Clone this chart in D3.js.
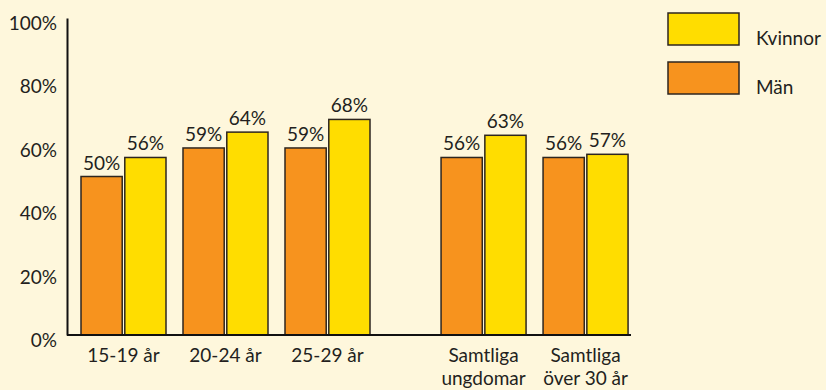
<!DOCTYPE html>
<html>
<head>
<meta charset="utf-8">
<script src="https://cdn.jsdelivr.net/npm/d3@7"></script>
<style>
  html, body { margin: 0; padding: 0; background: #fef7dc; }
  svg { display: block; font-family: Lato, "Open Sans", sans-serif; }
</style>
</head>
<body>
<svg id="chart" width="826" height="390"></svg>
<script>
// data
const categories = [["15-19 år"], ["20-24 år"], ["25-29 år"], ["Samtliga", "ungdomar"], ["Samtliga", "över 30 år"]];
const man = [50, 59, 59, 56, 56];
const kvinnor = [56, 64, 68, 63, 57];
const series = ["Män", "Kvinnor"];
const yTicks = [0, 20, 40, 60, 80, 100];

const colors = { "Män": "#f7931e", "Kvinnor": "#ffdd00" };
const fontSize = 19;

const svg = d3.select("#chart");

// layout: groups are laid out in slots, with an extra gap before the summary groups
const slots = categories.map((c, i) => i + (i >= 3 ? 0.53 : 0));
const slotX = d3.scaleLinear().domain([0, 1]).range([81, 183]);
const inner = d3.scaleBand().domain(series).range([0, 85]).paddingInner(5 / 85);
const y = d3.scaleLinear().domain([0, 100]).range([335, 18]);

const rows = categories.map((c, i) => ({ label: c, slot: slots[i], "Män": man[i], "Kvinnor": kvinnor[i] }));

// y axis
const yAxis = svg.append("g")
    .attr("transform", "translate(67,0)")
    .call(d3.axisLeft(y).tickValues(yTicks).tickSize(0).tickPadding(10).tickFormat(d => d + "%"));
yAxis.select(".domain").attr("stroke", "#111").attr("stroke-width", 2);
yAxis.selectAll("text")
    .attr("font-family", "Lato, sans-serif")
    .attr("font-size", fontSize)
    .attr("fill", "#231f20")
    .attr("dy", "0.6em");

// bars
const groups = svg.append("g").selectAll("g")
    .data(rows).enter().append("g")
    .attr("transform", d => `translate(${slotX(d.slot)},0)`);

groups.selectAll("rect")
    .data(d => series.map(s => ({ key: s, value: d[s] })))
    .enter().append("rect")
    .attr("x", d => inner(d.key))
    .attr("y", d => y(d.value))
    .attr("width", inner.bandwidth())
    .attr("height", d => y(0) - y(d.value))
    .attr("fill", d => colors[d.key])
    .attr("stroke", "#2e261f")
    .attr("stroke-width", 1.5);

groups.selectAll("text.val")
    .data(d => series.map(s => ({ key: s, value: d[s] })))
    .enter().append("text")
    .attr("class", "val")
    .attr("x", d => inner(d.key) + inner.bandwidth() / 2)
    .attr("y", d => y(d.value) - 7)
    .attr("text-anchor", "middle")
    .attr("font-size", fontSize)
    .attr("fill", "#231f20")
    .text(d => d.value + "%");

// x baseline
svg.append("line")
    .attr("x1", 67).attr("x2", 631)
    .attr("y1", y(0)).attr("y2", y(0))
    .attr("stroke", "#111").attr("stroke-width", 2);

// category labels
const catText = groups.append("text")
    .attr("text-anchor", "middle")
    .attr("font-size", fontSize)
    .attr("fill", "#231f20");
catText.selectAll("tspan")
    .data(d => d.label)
    .enter().append("tspan")
    .attr("x", 42.5)
    .attr("y", (d, i) => 362 + i * 23)
    .text(d => d);

// legend
const legendItems = ["Kvinnor", "Män"];
const legend = svg.append("g").selectAll("g")
    .data(legendItems).enter().append("g")
    .attr("transform", (d, i) => `translate(668,${13 + i * 49})`);
legend.append("rect")
    .attr("width", 71).attr("height", 32)
    .attr("fill", d => colors[d])
    .attr("stroke", "#2e261f").attr("stroke-width", 1.5);
legend.append("text")
    .attr("x", 88).attr("y", 32)
    .attr("font-size", fontSize)
    .attr("fill", "#231f20")
    .text(d => d);
</script>
</body>
</html>
